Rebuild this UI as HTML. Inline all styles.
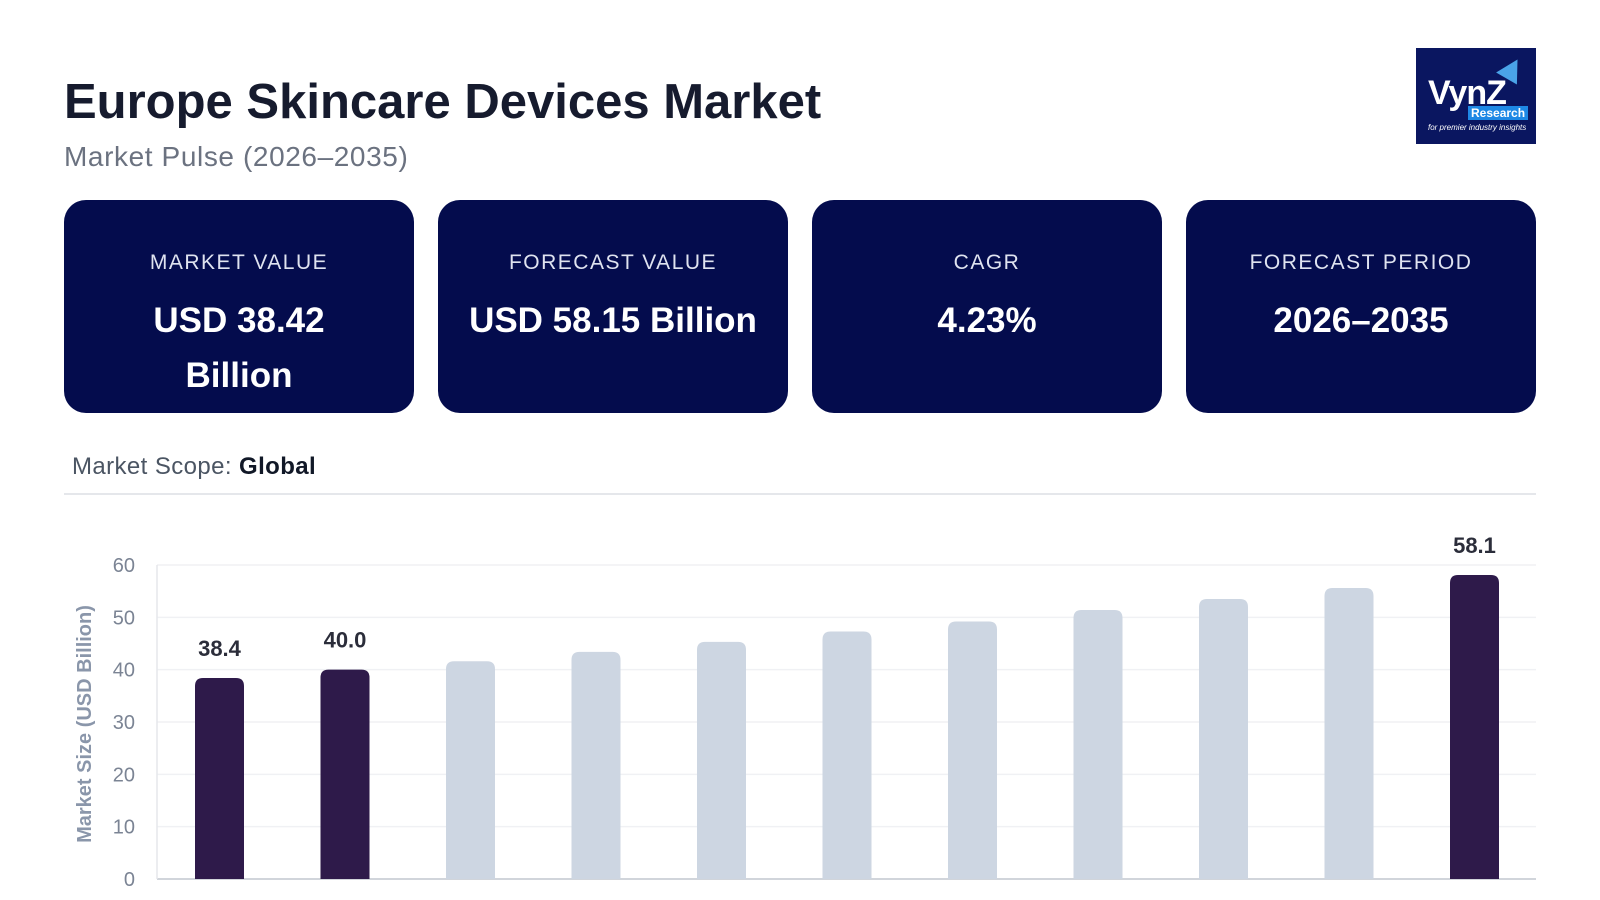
<!DOCTYPE html>
<html><head><meta charset="utf-8"><style>
body{margin:0;width:1600px;height:900px;background:#fff;font-family:"Liberation Sans",sans-serif;position:relative;overflow:hidden}
.abs{position:absolute}
h1{position:absolute;left:64px;top:74px;margin:0;font-size:49px;font-weight:bold;color:#161b2e;letter-spacing:0px}
.sub{left:64px;top:141px;font-size:28px;color:#6b7280;letter-spacing:0.6px}
.card{position:absolute;top:200px;width:350px;height:213px;background:#040c4d;border-radius:22px;color:#fff;text-align:center}
.card .lbl{margin-top:51px;font-size:21px;letter-spacing:1.5px;color:#dfe3f0}
.card .val{margin-top:18px;font-size:35px;font-weight:bold;line-height:55px}
</style></head><body>
<h1>Europe Skincare Devices Market</h1>
<div class="abs sub">Market Pulse (2026–2035)</div>
<div class="abs" style="left:1416px;top:48px;width:120px;height:96px;background:#0a1660">
<div style="position:absolute;left:12px;top:26px;color:#fff;font-weight:bold;font-size:34px;letter-spacing:-1px">VynZ</div>
<div style="position:absolute;left:84px;top:10px;width:0;height:0;border-left:12px solid transparent;border-right:12px solid transparent;border-bottom:22px solid #4aa3e8;transform:rotate(30deg)"></div>
<div style="position:absolute;left:52px;top:58px;background:#1e88e5;color:#fff;font-size:12px;font-weight:bold;padding:0 3px">Research</div>
<div style="position:absolute;left:12px;top:75px;color:#fff;font-size:8px;font-style:italic">for premier industry insights</div>
</div>
<div class="card" style="left:64px"><div class="lbl">MARKET VALUE</div><div class="val">USD 38.42<br>Billion</div></div>
<div class="card" style="left:438px"><div class="lbl">FORECAST VALUE</div><div class="val">USD 58.15 Billion</div></div>
<div class="card" style="left:812px"><div class="lbl">CAGR</div><div class="val">4.23%</div></div>
<div class="card" style="left:1186px"><div class="lbl">FORECAST PERIOD</div><div class="val">2026–2035</div></div>
<div class="abs" style="left:72px;top:453px;font-size:24px;color:#4b5563;letter-spacing:0.4px">Market Scope: <b style="color:#111827">Global</b></div>
<div class="abs" style="left:64px;top:493px;width:1472px;height:2px;background:#e5e7eb"></div>
<svg class="abs" style="left:0;top:0" width="1600" height="900">
<g id="g"></g>
<text transform="translate(91,724) rotate(-90)" text-anchor="middle" font-size="20" font-weight="bold" fill="#8a96aa">Market Size (USD Billion)</text>
</svg>
<script>
const years=['2025','2026','2027','2028','2029','2030','2031','2032','2033','2034','2035'];
const values=[38.4,40.0,41.6,43.4,45.3,47.3,49.2,51.4,53.5,55.6,58.1];
const labels=['38.4','40.0','','','','','','','','','58.1'];
const ticks=[0,10,20,30,40,50,60];
const highlight=[true,true,false,false,false,false,false,false,false,false,true];
const g=document.getElementById('g');const NS='http://www.w3.org/2000/svg';
const y0=879,ppu=314/60,x0=157,x1=1536,c0=219.5,pitch=125.5,bw=49;
const y=v=>y0-v*ppu,x=i=>c0+i*pitch;
function mk(t,a){const e=document.createElementNS(NS,t);for(const k in a)e.setAttribute(k,a[k]);g.appendChild(e);return e;}
ticks.forEach(t=>{
const l=mk('line',{x1:x0,x2:x1,y1:y(t),y2:y(t),stroke:t===0?'#d1d5db':'#f0f1f4','stroke-width':t===0?2:1.5});


const tx=mk('text',{x:135,y:y(t)+7,'text-anchor':'end','font-size':20,fill:'#7b8494'});tx.textContent=t;


});
mk('line',{x1:x0,x2:x0,y1:y(60),y2:y0,stroke:'#e5e7eb','stroke-width':1.5});
values.forEach((v,i)=>{
const top=y(v);
const p=mk('path',{d:`M${x(i)-bw/2},${y0}V${top+8}Q${x(i)-bw/2},${top} ${x(i)-bw/2+8},${top}H${x(i)+bw/2-8}Q${x(i)+bw/2},${top} ${x(i)+bw/2},${top+8}V${y0}Z`,fill:highlight[i]?'#2e1a4a':'#cdd6e2'});


if(labels[i]){const t=mk('text',{x:x(i),y:top-22,'text-anchor':'middle','font-size':22,'font-weight':'bold',fill:'#2b2d3a'});t.textContent=labels[i];

}
});
</script>
</body></html>
